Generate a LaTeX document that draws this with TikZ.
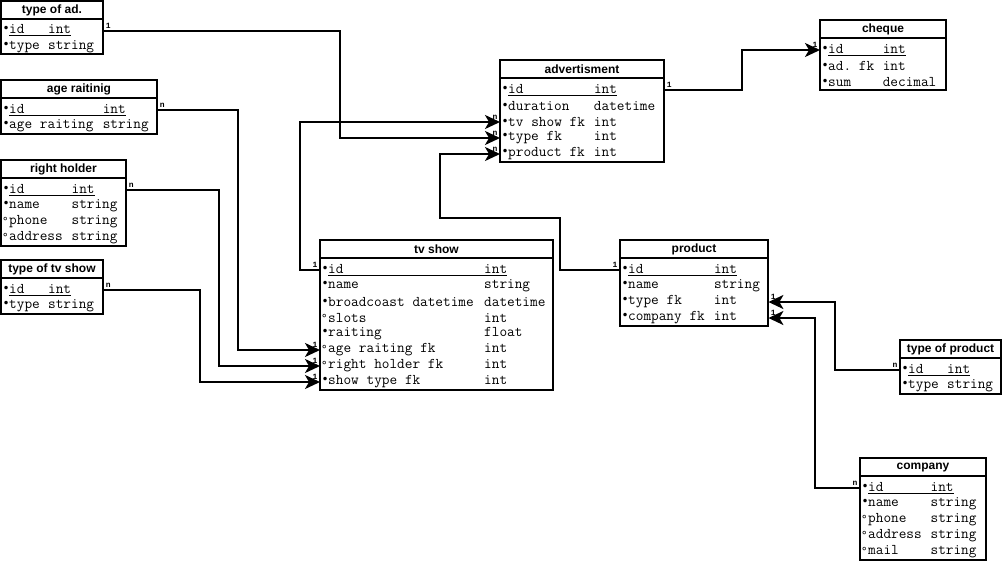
\documentclass[tikz,border=0pt]{standalone}
\usepackage{fontspec}
\setmainfont{Liberation Sans}
\newfontfamily\markfont{DejaVu Sans}
\newfontfamily\cardfont{Liberation Mono}
\usetikzlibrary{arrows.meta}

\newlength\chw
\setlength\chw{7.8pt}
% field markers
\newcommand\pk{\raisebox{1pt}{\markfont\fontsize{12}{12}\selectfont •}}
\newcommand\op{\raisebox{-0.5pt}{\markfont\fontsize{11}{11}\selectfont °}}
% #1 = width of the name column in characters
\newcommand\row[4]{\spaceskip=\chw\xspaceskip=\chw
  \hspace*{1.5pt}\makebox[6.5pt][l]{#2}\makebox[#1\chw][l]{#3}#4}
\newcommand\keyrow[3]{\spaceskip=\chw\xspaceskip=\chw
  \hspace*{1.5pt}\makebox[6.5pt][l]{\pk}\underline{\makebox[#1\chw][l]{#2}#3}}

\tikzset{
  tbl/.style={draw, line width=2pt},
  ttl/.style={font=\bfseries\fontsize{12}{12}\selectfont, inner sep=0pt},
  fld/.style={anchor=west, inner sep=0pt, minimum height=16pt, align=left,
    font=\ttfamily\fontsize{14.86}{15}\selectfont},
  link/.style={line width=2pt, -{Stealth[length=15pt,width=14pt,inset=4pt]}},
  card/.style={font=\cardfont\bfseries\fontsize{8}{8}\selectfont, inner sep=1.5pt}
}

\begin{document}
\begin{tikzpicture}[x=1pt, y=-1pt]
  \useasboundingbox (0,0) rectangle (1003,562);

  % type of ad.
  \draw[tbl] (1,1) rectangle (103,54);
  \draw[tbl] (1,19) -- (103,19);
  \node[ttl] (tad) at (52,10.5) {type of ad.};
  \node[fld, text width=102pt] (tad-id) at (1,30.5) {\keyrow{5}{id}{int}};
  \node[fld, text width=102pt] (tad-type) at (1,46.5) {\row{5}{\pk}{type}{string}};

  % age raitinig
  \draw[tbl] (1,80) rectangle (157,134);
  \draw[tbl] (1,98) -- (157,98);
  \node[ttl] (age) at (79,89.5) {age raitinig};
  \node[fld, text width=156pt] (age-id) at (1,110) {\keyrow{12}{id}{int}};
  \node[fld, text width=156pt] (age-ar) at (1,126) {\row{12}{\pk}{age raiting}{string}};

  % right holder
  \draw[tbl] (1,160) rectangle (126,246);
  \draw[tbl] (1,178) -- (126,178);
  \node[ttl] (rh) at (63.5,169.5) {right holder};
  \node[fld, text width=125pt] (rh-id) at (1,190) {\keyrow{8}{id}{int}};
  \node[fld, text width=125pt] (rh-name) at (1,206) {\row{8}{\pk}{name}{string}};
  \node[fld, text width=125pt] (rh-phone) at (1,222) {\row{8}{\op}{phone}{string}};
  \node[fld, text width=125pt] (rh-addr) at (1,238) {\row{8}{\op}{address}{string}};

  % type of tv show
  \draw[tbl] (1,260) rectangle (103,314);
  \draw[tbl] (1,278) -- (103,278);
  \node[ttl] (ttv) at (52,269.5) {type of tv show};
  \node[fld, text width=102pt] (ttv-id) at (1,290) {\keyrow{5}{id}{int}};
  \node[fld, text width=102pt] (ttv-type) at (1,306) {\row{5}{\pk}{type}{string}};

  % advertisment
  \draw[tbl] (500,60) rectangle (664,162);
  \draw[tbl] (500,78) -- (664,78);
  \node[ttl] (ad) at (582,69.5) {advertisment};
  \node[fld, text width=164pt] (ad-id) at (500,90) {\keyrow{11}{id}{int}};
  \node[fld, text width=164pt] (ad-dur) at (500,106) {\row{11}{\pk}{duration}{datetime}};
  \node[fld, text width=164pt] (ad-tv) at (500,122) {\row{11}{\pk}{tv show fk}{int}};
  \node[fld, text width=164pt] (ad-type) at (500,138) {\row{11}{\pk}{type fk}{int}};
  \node[fld, text width=164pt] (ad-prod) at (500,154) {\row{11}{\pk}{product fk}{int}};

  % cheque
  \draw[tbl] (820,20) rectangle (946,90);
  \draw[tbl] (820,38) -- (946,38);
  \node[ttl] (ch) at (883,29.5) {cheque};
  \node[fld, text width=126pt] (ch-id) at (820,50) {\keyrow{7}{id}{int}};
  \node[fld, text width=126pt] (ch-ad) at (820,66) {\row{7}{\pk}{ad. fk}{int}};
  \node[fld, text width=126pt] (ch-sum) at (820,82) {\row{7}{\pk}{sum}{decimal}};

  % tv show
  \draw[tbl] (320,240) rectangle (553,390);
  \draw[tbl] (320,258) -- (553,258);
  \node[ttl] (tv) at (436.5,249.5) {tv show};
  \node[fld, text width=233pt] (tv-id) at (320,270) {\keyrow{20}{id}{int}};
  \node[fld, text width=233pt] (tv-name) at (320,286) {\row{20}{\pk}{name}{string}};
  \node[fld, text width=233pt] (tv-bc) at (320,302) {\row{20}{\pk}{broadcoast datetime}{datetime}};
  \node[fld, text width=233pt] (tv-slots) at (320,318) {\row{20}{\op}{slots}{int}};
  \node[fld, text width=233pt] (tv-rt) at (320,334) {\row{20}{\pk}{raiting}{float}};
  \node[fld, text width=233pt] (tv-age) at (320,350) {\row{20}{\op}{age raiting fk}{int}};
  \node[fld, text width=233pt] (tv-rh) at (320,366) {\row{20}{\op}{right holder fk}{int}};
  \node[fld, text width=233pt] (tv-st) at (320,382) {\row{20}{\pk}{show type fk}{int}};

  % product
  \draw[tbl] (620,240) rectangle (768,326);
  \draw[tbl] (620,258) -- (768,258);
  \node[ttl] (pr) at (694,249.5) {product};
  \node[fld, text width=148pt] (pr-id) at (620,270) {\keyrow{11}{id}{int}};
  \node[fld, text width=148pt] (pr-name) at (620,286) {\row{11}{\pk}{name}{string}};
  \node[fld, text width=148pt] (pr-type) at (620,302) {\row{11}{\pk}{type fk}{int}};
  \node[fld, text width=148pt] (pr-co) at (620,318) {\row{11}{\pk}{company fk}{int}};

  % type of product
  \draw[tbl] (900,340) rectangle (1001,394);
  \draw[tbl] (900,358) -- (1001,358);
  \node[ttl] (tp) at (950.5,349.5) {type of product};
  \node[fld, text width=101pt] (tp-id) at (900,370) {\keyrow{5}{id}{int}};
  \node[fld, text width=101pt] (tp-type) at (900,386) {\row{5}{\pk}{type}{string}};

  % company
  \draw[tbl] (860,458) rectangle (986,560);
  \draw[tbl] (860,476) -- (986,476);
  \node[ttl] (co) at (923,467.5) {company};
  \node[fld, text width=126pt] (co-id) at (860,488) {\keyrow{8}{id}{int}};
  \node[fld, text width=126pt] (co-name) at (860,504) {\row{8}{\pk}{name}{string}};
  \node[fld, text width=126pt] (co-phone) at (860,520) {\row{8}{\op}{phone}{string}};
  \node[fld, text width=126pt] (co-addr) at (860,536) {\row{8}{\op}{address}{string}};
  \node[fld, text width=126pt] (co-mail) at (860,552) {\row{8}{\op}{mail}{string}};

  % relations
  \draw[link] (tad-id.east) node[card, above right] (c1) {1} -| (340,100)
    |- (ad-type.west) node[card, above left] (c2) {n};
  \draw[link] (age-id.east) node[card, above right] (c3) {n} -| (238,200)
    |- (tv-age.west) node[card, above left] (c4) {1};
  \draw[link] (rh-id.east) node[card, above right] (c5) {n} -| (219,300)
    |- (tv-rh.west) node[card, above left] (c6) {1};
  \draw[link] (ttv-id.east) node[card, above right] (c7) {n} -| (200,340)
    |- (tv-st.west) node[card, above left] (c8) {1};
  \draw[link] (tv-id.west) node[card, above left] (c9) {1} -| (300,200)
    |- (ad-tv.west) node[card, above left] (c10) {n};
  \draw[link] (pr-id.west) node[card, above left] (c11) {1} -| (560,218)
    -| (440,190) |- (ad-prod.west) node[card, above left] (c12) {n};
  \draw[link] (ad-id.east) node[card, above right] (c13) {1} -| (742,70)
    |- (ch-id.west) node[card, above left] (c14) {1};
  \draw[link] (tp-id.west) node[card, above left] (c15) {n} -| (835,330)
    |- (pr-type.east) node[card, above right] (c16) {1};
  \draw[link] (co-id.west) node[card, above left] (c17) {n} -| (815,400)
    |- (pr-co.east) node[card, above right] (c18) {1};
\end{tikzpicture}
\end{document}
